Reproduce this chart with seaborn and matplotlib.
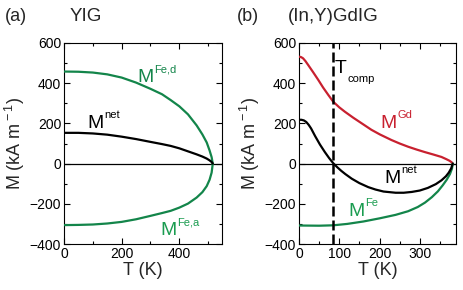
import matplotlib
matplotlib.use("Agg")
import matplotlib.pyplot as plt
import seaborn as sns
import numpy as np

# ---------------- data: panel (a) YIG ----------------
T_a = [0, 50, 100, 150, 200, 250, 300, 340, 370, 400, 430, 460, 480, 495, 505, 512, 516]
M_fed = [458, 457, 453, 444, 428, 403, 372, 345, 316, 285, 245, 190, 145, 105, 65, 32, 0]
M_fea = [-306, -305, -303, -298, -290, -277, -260, -246, -235, -219, -199, -169, -142, -112, -80, -45, 0]
M_net_a = [153, 153, 150, 144, 134, 122, 108, 97, 88, 76, 61, 46, 35, 25, 16, 8, 0]

# ---------------- data: panel (b) (In,Y)GdIG ----------------
T_gd = [0, 5, 10, 16, 23, 35, 48, 60, 73, 85, 100, 114, 135, 156, 180, 201, 230, 250, 271, 292, 313, 334, 354, 366, 374, 379, 382]
M_gd = [532, 530, 524, 510, 490, 455, 416, 378, 341, 308, 280, 258, 228, 200, 168, 145, 117, 100, 84, 70, 57, 45, 33, 22, 14, 7, 0]
T_netb = [0, 6, 12, 18, 24, 30, 40, 52, 64, 75, 85, 95, 105, 115, 131, 150, 172, 190, 210, 240, 260, 280, 300, 320, 340, 354, 365, 372, 378, 382]
M_net_b = [218, 218, 215, 207, 193, 175, 137, 95, 58, 27, 2, -18, -36, -52, -75, -97, -117, -129, -139, -145, -145, -141, -134, -121, -102, -83, -63, -45, -24, 0]
T_feb = [0, 50, 85, 120, 160, 201, 240, 271, 295, 313, 330, 345, 357, 367, 375, 380, 382]
M_fe_b = [-308, -309, -307, -300, -288, -272, -255, -237, -216, -194, -167, -138, -108, -80, -52, -25, 0]
T_comp = 85

GREEN = "#13854a"
GREEN2 = "#1a9c50"
RED = "#c8202f"

sns.set_theme(style="ticks")
plt.rcParams["font.family"] = ["Liberation Sans", "DejaVu Sans"]
plt.rcParams["mathtext.fontset"] = "custom"
plt.rcParams["mathtext.rm"] = "Liberation Sans"
plt.rcParams["mathtext.it"] = "Liberation Sans"

fig = plt.figure(figsize=(4.63, 2.90), dpi=100)
axa = fig.add_axes([64/463, 46/290, 158/463, 201/290])
axb = fig.add_axes([299/463, 46/290, 157/463, 201/290])


def style(ax, xlim, xmaj, xmin):
    ax.set_xlim(*xlim)
    ax.set_ylim(-400, 600)
    ax.set_xticks(np.arange(0, xlim[1] + 1, xmaj))
    ax.set_xticks(np.arange(0, xlim[1] + 1, xmin), minor=True)
    ax.set_yticks(np.arange(-400, 601, 200))
    ax.set_yticks(np.arange(-400, 601, 100), minor=True)
    ax.tick_params(which="both", direction="in", top=True, right=True,
                   labelsize=10, width=0.8, color="black", labelcolor="black", pad=2)
    ax.tick_params(which="major", length=4)
    ax.tick_params(which="minor", length=2.5)
    for s in ax.spines.values():
        s.set_linewidth(0.8)
        s.set_color("black")
    ax.set_xlabel("T (K)", fontsize=13, labelpad=1)
    ax.set_ylabel(r"M (kA m$^{\rm -1}$)", fontsize=13, labelpad=2)
    ax.axhline(0, color="black", lw=0.9, zorder=1)


def label(ax, x, y, main, script, color, sub=False, size=14, ssize=8, dx=12.5, dy=7):
    ax.text(x, y, main, color=color, fontsize=size, ha="left", va="baseline")
    ax.annotate(script, xy=(x, y), xytext=(dx, -dy if sub else dy), textcoords="offset points",
                color=color, fontsize=ssize, ha="left", va="baseline")


style(axa, (0, 548), 200, 100)
style(axb, (0, 390), 100, 50)

# panel (a)
sns.lineplot(x=T_a, y=M_fed, ax=axa, color=GREEN, lw=1.6, estimator=None, sort=False, zorder=3)
sns.lineplot(x=T_a, y=M_fea, ax=axa, color=GREEN, lw=1.6, estimator=None, sort=False, zorder=3)
sns.lineplot(x=T_a, y=M_net_a, ax=axa, color="black", lw=1.6, estimator=None, sort=False, zorder=3)
label(axa, 253, 406, "M", "Fe,d", GREEN)
label(axa, 80, 177, "M", "net", "black")
label(axa, 333, -355, "M", "Fe,a", GREEN2)

# panel (b)
sns.lineplot(x=T_gd, y=M_gd, ax=axb, color=RED, lw=1.6, estimator=None, sort=False, zorder=3)
sns.lineplot(x=T_feb, y=M_fe_b, ax=axb, color=GREEN, lw=1.6, estimator=None, sort=False, zorder=3)
sns.lineplot(x=T_netb, y=M_net_b, ax=axb, color="black", lw=1.6, estimator=None, sort=False, zorder=3)
axb.axvline(T_comp, color="black", lw=1.8, ls=(0, (4, 1.6)), zorder=4)
label(axb, 89, 450, "T", "comp", "black", sub=True, dx=9, dy=6.5)
label(axb, 201, 177, "M", "Gd", RED)
label(axb, 211, -97, "M", "net", "black")
label(axb, 122, -261, "M", "Fe", GREEN2)

fig.text(5/463, 1 - 21/290, "(a)", fontsize=13, ha="left", va="baseline")
fig.text(70/463, 1 - 21/290, "YIG", fontsize=13.5, ha="left", va="baseline")
fig.text(237/463, 1 - 21/290, "(b)", fontsize=13, ha="left", va="baseline")
fig.text(288/463, 1 - 21/290, "(In,Y)GdIG", fontsize=13.5, ha="left", va="baseline")

fig.savefig("out.png", dpi=100)
